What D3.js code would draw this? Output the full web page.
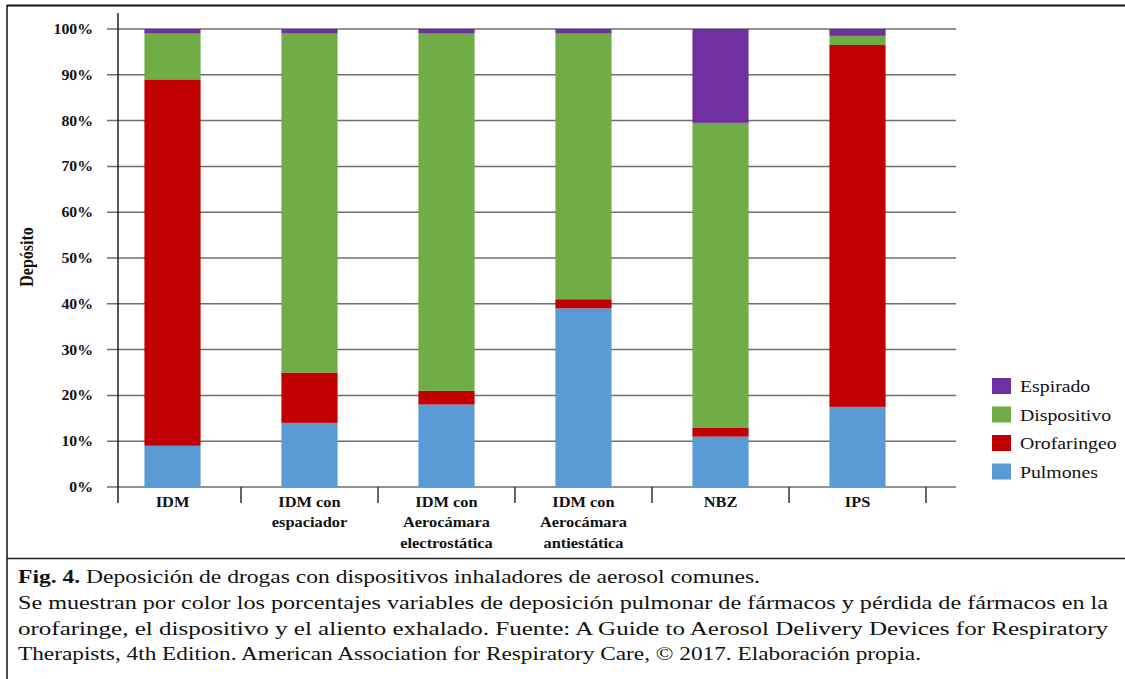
<!DOCTYPE html>
<html>
<head>
<meta charset="utf-8">
<script src="https://cdn.jsdelivr.net/npm/d3@7"></script>
<style>
  html, body { margin: 0; padding: 0; background: #fff; }
  svg { display: block; }
</style>
</head>
<body>
<svg id="chart" width="1125" height="679"></svg>
<script>
// Device categories (line breaks mark the wrapped axis labels)
const categories = [
  "IDM",
  "IDM con\nespaciador",
  "IDM con\nAerocámara\nelectrostática",
  "IDM con\nAerocámara\nantiestática",
  "NBZ",
  "IPS"
];

// Deposition share (%) per destination, one value per device
const pulmones    = [9, 14, 18, 39, 11, 17.5];
const orofaringeo = [80, 11, 3, 2, 2, 79];
const dispositivo = [10, 74, 78, 58, 66.5, 2];
const espirado    = [1, 1, 1, 1, 20.5, 1.5];

const seriesNames  = ["Pulmones", "Orofaringeo", "Dispositivo", "Espirado"];
const seriesColors = ["#5B9BD5", "#C00000", "#70AD47", "#7030A0"];
const legendOrder  = ["Espirado", "Dispositivo", "Orofaringeo", "Pulmones"];

const yTicks = [0, 10, 20, 30, 40, 50, 60, 70, 80, 90, 100];

const captionTitle = "Fig. 4.";
const captionLines = [
  " Deposición de drogas con dispositivos inhaladores  de aerosol comunes.",
  "Se muestran por color los porcentajes variables de deposición pulmonar de fármacos y pérdida de fármacos en la",
  "orofaringe, el dispositivo y el aliento exhalado. Fuente: A Guide to Aerosol Delivery Devices for Respiratory",
  "Therapists, 4th Edition. American Association for Respiratory Care, © 2017. Elaboración propia."
];

const FONT = '"Liberation Serif", "Times New Roman", Times, serif';
const INK = "#111";
const SX = 1.13; // wide typeface proportions

const svg = d3.select("#chart");
const txt = sel => sel.style("font-family", FONT).attr("fill", INK);

const plot = { left: 118, right: 956, top: 29, bottom: 487 };

const table = categories.map((c, i) => ({
  cat: c,
  Pulmones: pulmones[i],
  Orofaringeo: orofaringeo[i],
  Dispositivo: dispositivo[i],
  Espirado: espirado[i]
}));
const stacked = d3.stack().keys(seriesNames)(table);

const x = d3.scaleBand().domain(categories).range([104, 926])
  .paddingInner(0.59).paddingOuter(0.295);
const y = d3.scaleLinear().domain([0, 100]).range([plot.bottom, plot.top]);
const color = d3.scaleOrdinal().domain(seriesNames).range(seriesColors);

// frame lines
svg.append("line").attr("x1", 7).attr("x2", 1125).attr("y1", 5.5).attr("y2", 5.5)
  .attr("stroke", "#111").attr("stroke-width", 2);
svg.append("line").attr("x1", 7).attr("x2", 7).attr("y1", 5).attr("y2", 679)
  .attr("stroke", "#111").attr("stroke-width", 1.5);
svg.append("line").attr("x1", 7).attr("x2", 1125).attr("y1", 558.5).attr("y2", 558.5)
  .attr("stroke", "#222").attr("stroke-width", 1.5);

// horizontal gridlines (0% doubles as the category axis)
svg.append("g").selectAll("line").data(yTicks).join("line")
  .attr("x1", 107).attr("x2", plot.right)
  .attr("y1", d => y(d)).attr("y2", d => y(d))
  .attr("stroke", "#6e6e6e").attr("stroke-width", 1.5);

// stacked bars
svg.append("g").selectAll("g").data(stacked).join("g")
  .attr("fill", d => color(d.key))
  .selectAll("rect").data(d => d).join("rect")
  .attr("x", d => x(d.data.cat))
  .attr("width", x.bandwidth())
  .attr("y", d => y(d[1]))
  .attr("height", d => y(d[0]) - y(d[1]));

// vertical axis line
svg.append("line").attr("x1", plot.left).attr("x2", plot.left)
  .attr("y1", 13).attr("y2", 503).attr("stroke", "#222").attr("stroke-width", 1.5);

// category separators below the axis
const step = x.step();
svg.append("g").selectAll("line").data(categories).join("line")
  .attr("x1", d => x(d) - x.paddingOuter() * step + step)
  .attr("x2", d => x(d) - x.paddingOuter() * step + step)
  .attr("y1", plot.bottom).attr("y2", 503)
  .attr("stroke", "#333").attr("stroke-width", 1.5);

// y tick labels
svg.append("g").selectAll("text").data(yTicks).join("text")
  .call(txt)
  .attr("transform", d => `translate(93,${y(d) + 5}) scale(${SX},1)`)
  .attr("text-anchor", "end")
  .attr("font-weight", "bold").attr("font-size", 14)
  .text(d => d + "%");

// y axis title
svg.append("text").call(txt)
  .attr("transform", `translate(33,257) rotate(-90) scale(1,${SX})`)
  .attr("text-anchor", "middle")
  .attr("font-weight", "bold").attr("font-size", 16)
  .text("Depósito");

// category labels
const catLabels = svg.append("g").selectAll("text").data(categories).join("text")
  .call(txt)
  .attr("transform", d => `translate(${x(d) + x.bandwidth() / 2},507) scale(${SX},1)`)
  .attr("text-anchor", "middle")
  .attr("font-weight", "bold").attr("font-size", 14.5);
catLabels.selectAll("tspan").data(d => d.split("\n")).join("tspan")
  .attr("x", 0).attr("dy", (d, i) => i === 0 ? 0 : 20.5)
  .text(d => d);

// legend
const legend = svg.append("g").selectAll("g").data(legendOrder).join("g")
  .attr("transform", (d, i) => `translate(992,${378 + i * 28.5})`);
legend.append("rect").attr("width", 19).attr("height", 16)
  .attr("fill", d => color(d));
legend.append("text").call(txt)
  .attr("transform", `translate(28,14) scale(${SX},1)`)
  .attr("font-size", 17.5)
  .text(d => d);

// caption: first and last lines run ragged, the middle two are justified
const capY = [583, 609, 635, 660];
const capEnd = [760, 1108, 1108, 921];
const cap0 = svg.append("text").call(txt)
  .attr("transform", `translate(18,${capY[0]}) scale(${SX},1)`)
  .attr("font-size", 18)
  .attr("textLength", (capEnd[0] - 18) / SX).attr("lengthAdjust", "spacingAndGlyphs");
cap0.append("tspan").attr("font-weight", "bold").text(captionTitle);
cap0.append("tspan").text(captionLines[0]);

captionLines.slice(1).forEach((t, i) => {
  svg.append("text").call(txt)
    .attr("transform", `translate(18,${capY[i + 1]}) scale(${SX},1)`)
    .attr("font-size", 18)
    .attr("textLength", (capEnd[i + 1] - 18) / SX)
    .attr("lengthAdjust", "spacingAndGlyphs")
    .text(t);
});
</script>
</body>
</html>
